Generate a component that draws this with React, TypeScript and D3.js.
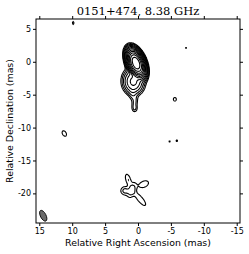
import React, { useEffect, useRef } from 'react'
import * as d3 from 'd3'

// gaussian components: RA, Dec (mas), peak, sigma major/minor (mas), PA (deg E of N)
const compRA = [0.3, 0.7, 0.8, 0.5, 0.45, 2.0, 0.9, 1.5, -0.9, -0.35, 9.85, -7.3, -5.6, 11.2, -4.8, -5.9]
const compDec = [-0.2, -3.0, -4.8, -6.3, -7.1, -19.6, -19.5, -17.9, -18.6, -20.9, 5.9, 2.1, -5.7, -10.9, -12.1, -12.0]
const compPeak = [4000, 40, 2.6, 2.2, 1.7, 2.5, 2.8, 2.0, 1.9, 2.0, 1.3, 1.12, 1.5, 1.4, 1.15, 1.2]
const compMaj = [0.8, 0.85, 0.7, 0.7, 0.35, 0.45, 0.8, 0.7, 0.65, 1.0, 0.3, 0.16, 0.3, 0.55, 0.17, 0.19]
const compMin = [0.43, 0.7, 0.33, 0.28, 0.25, 0.45, 0.38, 0.3, 0.4, 0.32, 0.15, 0.16, 0.25, 0.35, 0.17, 0.19]
const compPA = [22, 5, 5, -10, 0, 0, -20, 17, -65, 40, 0, 0, 0, 30, 0, 0]

const levels = [1, 2, 4, 8, 16, 32, 64, 128, 256, 512, 1024, 2048]

const xTicks = [15, 10, 5, 0, -5, -10, -15]
const yTicks = [5, 0, -5, -10, -15, -20]

// restoring beam
const beamRA = 14.4
const beamDec = -23.4
const beamMaj = 1.8
const beamMin = 0.85
const beamPA = 27

const App: React.FC = () => {
  const svgRef = useRef<SVGSVGElement>(null)

  useEffect(() => {
    const svg = d3.select(svgRef.current)
    svg.selectAll('*').remove()

    const x0 = 36, x1 = 240, y0 = 19, y1 = 223
    const raMax = 15.5, raMin = -15.5, decMax = 6.5, decMin = -24.5
    const x = d3.scaleLinear().domain([raMax, raMin]).range([x0, x1])
    const y = d3.scaleLinear().domain([decMax, decMin]).range([y0, y1])
    const pxPerMas = Math.abs(x(1) - x(0))

    // brightness grid
    const step = 0.1
    const n = Math.round((raMax - raMin) / step)
    const values = new Float64Array(n * n)
    for (let r = 0; r < n; r++) {
      const dec = decMax - (r + 0.5) * step
      for (let c = 0; c < n; c++) {
        const ra = raMax - (c + 0.5) * step
        let v = 0
        for (let k = 0; k < compRA.length; k++) {
          const dx = ra - compRA[k], dy = dec - compDec[k]
          if (Math.abs(dx) > 6 || Math.abs(dy) > 6) continue
          const pa = (compPA[k] * Math.PI) / 180
          const u = dx * Math.sin(pa) + dy * Math.cos(pa)
          const w = dx * Math.cos(pa) - dy * Math.sin(pa)
          v += compPeak[k] * Math.exp(-(u * u) / (2 * compMaj[k] ** 2) - (w * w) / (2 * compMin[k] ** 2))
        }
        values[r * n + c] = v
      }
    }

    const contours = d3.contours().size([n, n]).thresholds(levels)(Array.from(values))
    const proj = d3.geoTransform({
      point(px: number, py: number) {
        this.stream.point(x(raMax - px * step), y(decMax - py * step))
      },
    })
    const path = d3.geoPath(proj)

    svg.append('defs').append('clipPath').attr('id', 'frame')
      .append('rect').attr('x', x0).attr('y', y0).attr('width', x1 - x0).attr('height', y1 - y0)

    svg.append('g').attr('clip-path', 'url(#frame)')
      .selectAll('path')
      .data(contours)
      .join('path')
      .attr('d', d => path(d as any))
      .attr('fill', 'none')
      .attr('stroke', '#000')
      .attr('stroke-width', 1.1)

    // beam
    svg.append('ellipse')
      .attr('cx', x(beamRA)).attr('cy', y(beamDec))
      .attr('rx', (beamMin / 2) * pxPerMas)
      .attr('ry', (beamMaj / 2) * pxPerMas)
      .attr('transform', `rotate(${-beamPA},${x(beamRA)},${y(beamDec)})`)
      .attr('fill', '#6b6b6b')
      .attr('stroke', '#000')
      .attr('stroke-width', 0.8)

    // frame and ticks
    svg.append('rect')
      .attr('x', x0).attr('y', y0).attr('width', x1 - x0).attr('height', y1 - y0)
      .attr('fill', 'none').attr('stroke', '#000').attr('stroke-width', 1)

    const tickFmt = (d: number) => String(d)
    const bottom = svg.append('g').attr('transform', `translate(0,${y1})`)
      .call(d3.axisBottom(x).tickValues(xTicks).tickSize(3).tickPadding(2).tickFormat(tickFmt as any))
    const top = svg.append('g').attr('transform', `translate(0,${y0})`)
      .call(d3.axisTop(x).tickValues(xTicks).tickSize(3).tickFormat(() => ''))
    const left = svg.append('g').attr('transform', `translate(${x0},0)`)
      .call(d3.axisLeft(y).tickValues(yTicks).tickSize(3).tickPadding(2).tickFormat(tickFmt as any))
    const right = svg.append('g').attr('transform', `translate(${x1},0)`)
      .call(d3.axisRight(y).tickValues(yTicks).tickSize(3).tickFormat(() => ''))
    for (const g of [bottom, top, left, right]) {
      g.select('.domain').remove()
      g.selectAll('line').attr('stroke', '#000')
      g.selectAll('text')
        .attr('fill', '#000')
        .attr('font-family', 'DejaVu Sans')
        .attr('font-size', 8)
    }

    svg.append('text')
      .attr('x', (x0 + x1) / 2).attr('y', 15)
      .attr('text-anchor', 'middle')
      .attr('font-family', 'DejaVu Serif')
      .attr('font-size', 11.5)
      .text('0151+474, 8.38 GHz')

    svg.append('text')
      .attr('x', (x0 + x1) / 2).attr('y', 246)
      .attr('text-anchor', 'middle')
      .attr('font-family', 'DejaVu Sans')
      .attr('font-size', 9.4)
      .text('Relative Right Ascension (mas)')

    svg.append('text')
      .attr('transform', `translate(12.5,${(y0 + y1) / 2}) rotate(-90)`)
      .attr('text-anchor', 'middle')
      .attr('font-family', 'DejaVu Sans')
      .attr('font-size', 9.4)
      .text('Relative Declination (mas)')
  }, [])

  return (
    <svg
      ref={svgRef}
      width={249}
      height={254}
      style={{ position: 'absolute', left: 0, top: 0, background: '#fff' }}
    />
  )
}

export default App
